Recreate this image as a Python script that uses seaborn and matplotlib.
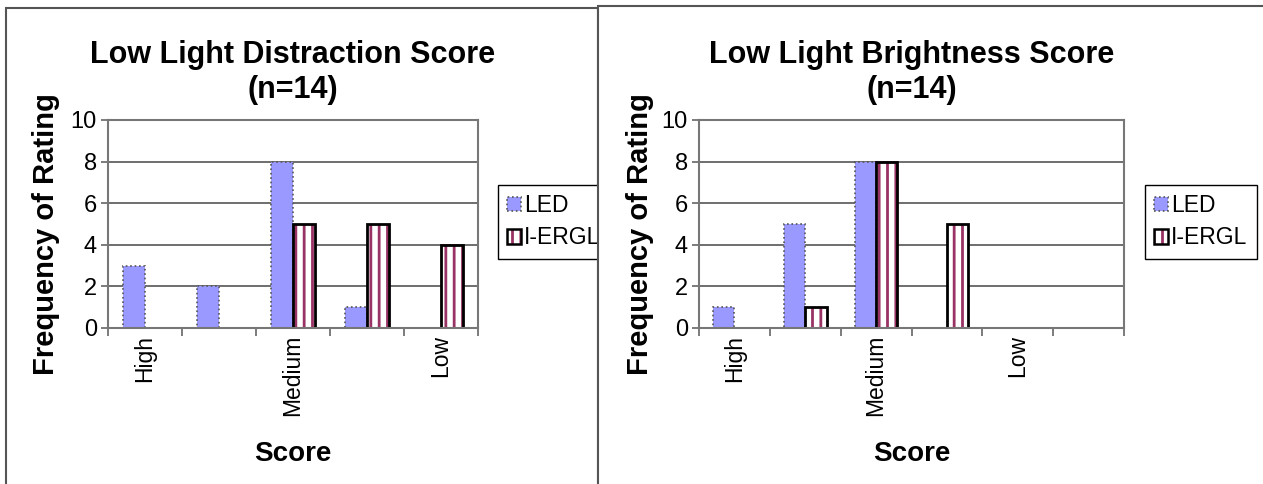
import matplotlib
matplotlib.use('Agg')
import matplotlib.pyplot as plt
from matplotlib.patches import Rectangle, Patch
from matplotlib.ticker import FixedLocator
import seaborn as sns
import pandas as pd
import numpy as np

# data
dist_cats = ['High', 'c2', 'Medium', 'c4', 'Low']
dist_ticks = ['High', '', 'Medium', '', 'Low']
dist_led = [3, 2, 8, 1, 0]
dist_ergl = [0, 0, 5, 5, 4]

bright_cats = ['High', 'c2', 'Medium', 'c4', 'Low', 'c6']
bright_ticks = ['High', '', 'Medium', '', 'Low', '']
bright_led = [1, 5, 8, 0, 0, 0]
bright_ergl = [0, 1, 8, 5, 0, 0]

series = ['LED', 'I-ERGL']

sns.set_style('white')
plt.rcParams['font.family'] = ['Liberation Sans', 'DejaVu Sans']
plt.rcParams['hatch.linewidth'] = 2.0
plt.rcParams['text.color'] = 'black'
plt.rcParams['axes.labelcolor'] = 'black'
plt.rcParams['xtick.labelcolor'] = 'black'
plt.rcParams['ytick.labelcolor'] = 'black'

led_style = dict(facecolor='#9999FF', edgecolor='#555555', linestyle=':', linewidth=1.2)
ergl_style = dict(facecolor='white', edgecolor='black', linestyle='-', linewidth=2.0, hatch='||')
hatch_col = '#993366'

fig = plt.figure(figsize=(12.63, 4.84), dpi=100)
W, H = 1263.0, 484.0

# chart frames (right one overlaps the left legend, like in the original)
fig.add_artist(Rectangle((6 / W, -0.02), (598 - 6) / W, 1.02 - 8 / H,
                         transform=fig.transFigure, facecolor='white',
                         edgecolor='#555555', linewidth=1.5, zorder=-2))
fig.add_artist(Rectangle((598 / W, -0.02), 0.6, 1.02 - 6 / H,
                         transform=fig.transFigure, facecolor='white',
                         edgecolor='#555555', linewidth=1.5, zorder=0.5))


def set_hatch_color(p, c):
    try:
        p.set_hatchcolor(c)
    except AttributeError:
        p._hatch_color = matplotlib.colors.to_rgba(c)


def make_panel(rect, cats, ticks, led, ergl, title, ylab_x, leg_xy, z):
    ax = fig.add_axes(rect, zorder=z)
    df = pd.DataFrame({
        'Score': cats * 2,
        'Series': [series[0]] * len(cats) + [series[1]] * len(cats),
        'Freq': led + ergl,
    })
    sns.barplot(data=df, x='Score', y='Freq', hue='Series', order=cats,
                hue_order=series, palette=['#9999FF', 'white'], width=0.6,
                ax=ax, legend=False)

    for cont, style in zip(ax.containers, [led_style, ergl_style]):
        for p in cont.patches:
            p.set(**style)
            if 'hatch' in style:
                set_hatch_color(p, hatch_col)
            if p.get_height() == 0:
                p.set_visible(False)

    n = len(cats)
    ax.set_xlim(-0.5, n - 0.5)
    ax.set_ylim(0, 10)
    ax.set_yticks(np.arange(0, 11, 2))
    ax.set_xticks(range(n))
    ax.set_xticklabels(ticks, rotation=90, fontsize=16.5, color='black')
    ax.xaxis.set_minor_locator(FixedLocator(np.arange(-0.5, n, 1)))
    ax.tick_params(axis='x', which='major', length=0, pad=5)
    ax.tick_params(axis='x', which='minor', length=6, width=1.2,
                   color='#666666', direction='out', bottom=True)
    ax.tick_params(axis='y', length=5, width=1.2, color='#666666',
                   direction='out', left=True, labelsize=17, pad=3,
                   labelcolor='black')

    ax.yaxis.grid(True, color='#555555', linewidth=1.2)
    ax.set_axisbelow(True)
    for s in ax.spines.values():
        s.set_visible(True)
        s.set_color('#777777')
        s.set_linewidth(1.5)

    ax.set_title(title, fontsize=22, fontweight='bold', pad=16,
                 linespacing=1.2, color='black')
    ax.set_ylabel('Frequency of Rating', fontsize=21, fontweight='bold')
    ax.yaxis.set_label_coords(ylab_x, 0.45)
    ax.set_xlabel('Score', fontsize=20, fontweight='bold')
    ax.xaxis.set_label_coords(0.5, -0.545)

    handles = [Patch(**led_style),
               Patch(**{**ergl_style, 'linewidth': 1.8})]
    set_hatch_color(handles[1], hatch_col)
    leg = ax.legend(handles, series, loc='upper left', bbox_to_anchor=leg_xy,
                    bbox_transform=fig.transFigure, fontsize=16.5, frameon=True,
                    fancybox=False, framealpha=1, edgecolor='black',
                    handlelength=0.6, handleheight=0.6, handletextpad=0.15,
                    borderpad=0.4, labelspacing=0.4, borderaxespad=0,
                    labelcolor='black')
    leg.get_frame().set_linewidth(1.0)
    return ax


make_panel([108 / W, 1 - 328 / H, 370 / W, 208 / H], dist_cats, dist_ticks,
           dist_led, dist_ergl, 'Low Light Distraction Score\n(n=14)',
           -0.13, (498 / W, 1 - 185 / H), 0)
make_panel([699 / W, 1 - 328 / H, 425 / W, 208 / H], bright_cats, bright_ticks,
           bright_led, bright_ergl, 'Low Light Brightness Score\n(n=14)',
           -0.105, (1145 / W, 1 - 185 / H), 1)

plt.savefig('out.png', dpi=100)
